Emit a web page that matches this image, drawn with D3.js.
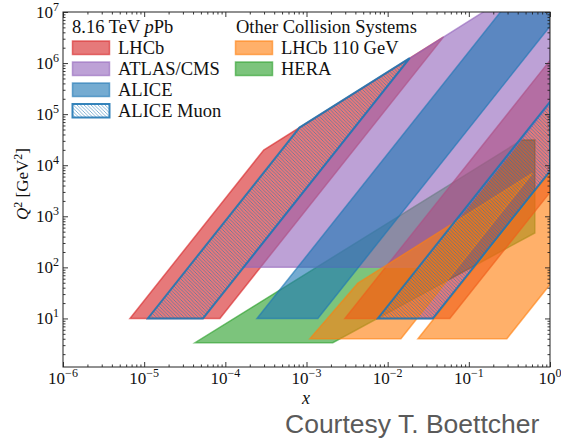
<!DOCTYPE html>
<meta charset="utf-8">
<title>Kinematic coverage</title>
<style>
body { margin: 0; background: #fff; }
text { font-family: "Liberation Serif", "DejaVu Serif", serif; fill: #111; }
.courtesy { font-family: "Liberation Sans", Arial, sans-serif; fill: #5a5a5a; }
.axis path { display: none; }
.axis line { stroke: #222; stroke-width: 0.9px; }
</style>
<svg width="561" height="439"></svg>
<script src="https://d3js.org/d3.v7.min.js"></script>
<script>

// outlines of each acceptance region, [x, Q^2] corners
var lhcbFwd   = [[6.68e-6, 10], [8.57e-5, 10], [0.0489, 3.26e6], [2.97e-4, 1.98e4]];
var lhcbBwd   = [[2.97e-3, 10], [0.0583, 10], [1, 2.94e3], [1, 1.13e6]];
var atlas     = [[1.65e-4, 100], [0.0249, 100], [1, 1.61e5], [1, 6.66e7], [0.0181, 1.2e6]];
var alice     = [[2.45e-4, 10], [1.38e-3, 10], [1, 5.25e6], [1, 6.66e7], [0.4, 2.66e7]];
var muonFwd   = [[1.11e-5, 10], [5.3e-5, 10], [0.0187, 1.25e6], [8.2e-4, 5.47e4]];
var muonBwd   = [[7.57e-3, 10], [0.0361, 10], [1, 7.67e3], [1, 1.75e5]];
var lhcb110a  = [[1.1e-3, 4], [0.01456, 4], [0.604, 6.9e3], [4.3e-3, 49]];
var lhcb110b  = [[0.0236, 4], [0.294, 4], [1, 46], [1, 7.2e3]];
var hera      = [[4.23e-5, 3.35], [2.11e-3, 3.35], [0.65, 472], [0.65, 3.13e4], [0.45, 3.13e4]];

var xTickExp = [-6, -5, -4, -3, -2, -1, 0];
var yTickExp = [1, 2, 3, 4, 5, 6, 7];

var legendLeftTitle = "8.16 TeV ";
var legendLeft = ["LHCb", "ATLAS/CMS", "ALICE", "ALICE Muon"];
var legendRightTitle = "Other Collision Systems";
var legendRight = ["LHCb 110 GeV", "HERA"];

var red = "#d62728", purple = "#9467bd", blue = "#1f77b4", orange = "#ff7f0e", green = "#2ca02c";

var svg = d3.select("svg"),
    L = 63, R = 550, T = 12, B = 367;

var x = d3.scaleLog().domain([1e-6, 1]).range([L, R]);
var y = d3.scaleLog().domain([1.12, 1e7]).range([B, T]);

var defs = svg.append("defs");
defs.append("clipPath").attr("id", "plot")
  .append("rect").attr("x", L).attr("y", T).attr("width", R - L).attr("height", B - T);

var hatch = defs.append("pattern").attr("id", "hatch")
    .attr("patternUnits", "userSpaceOnUse")
    .attr("width", 3.5).attr("height", 3.5);
hatch.append("path")
    .attr("d", "M0,0L3.5,3.5M-1,2.5L1,4.5M2.5,-1L4.5,1")
    .attr("stroke", blue).attr("stroke-opacity", 0.85).attr("stroke-width", 0.65);

var line = d3.line().x(function(d) { return x(d[0]); }).y(function(d) { return y(d[1]); });

// drawing order matters for the overlaps
var layers = [
  {pts: hera, color: green},
  {pts: lhcbFwd, color: red},
  {pts: lhcbBwd, color: red},
  {pts: atlas, color: purple},
  {pts: alice, color: blue},
  {pts: lhcb110a, color: orange},
  {pts: lhcb110b, color: orange},
  {pts: muonFwd, color: blue, hatched: true},
  {pts: muonBwd, color: blue, hatched: true}
];

var g = svg.append("g").attr("clip-path", "url(#plot)");

g.selectAll("path")
  .data(layers)
  .enter().append("path")
    .attr("d", function(d) { return line(d.pts) + "Z"; })
    .attr("fill", function(d) { return d.hatched ? "url(#hatch)" : d.color; })
    .attr("fill-opacity", function(d) { return d.hatched ? 1 : 0.62; })
    .attr("stroke", function(d) { return d.color; })
    .attr("stroke-opacity", function(d) { return d.hatched ? 0.9 : 0.62; })
    .attr("stroke-width", function(d) { return d.hatched ? 2 : 1.5; })
    .attr("stroke-linejoin", "miter");

// ticks on all four sides, pointing in
var xMajor = xTickExp.map(function(e) { return Math.pow(10, e); });
var yMajor = yTickExp.map(function(e) { return Math.pow(10, e); });
var xMinor = [], yMinor = [];
d3.range(-6, 0).forEach(function(e) {
  for (var m = 2; m < 10; m++) xMinor.push(m * Math.pow(10, e));
});
d3.range(0, 7).forEach(function(e) {
  for (var m = 2; m < 10; m++) yMinor.push(m * Math.pow(10, e));
});

function ticks(axisFn, scale, vals, size, tr) {
  svg.append("g").attr("class", "axis").attr("transform", tr)
    .call(axisFn(scale).tickValues(vals).tickSize(-size).tickSizeOuter(0).tickFormat(""));
}
[[xMajor, 5], [xMinor, 2.5]].forEach(function(p) {
  ticks(d3.axisBottom, x, p[0], p[1], "translate(0," + B + ")");
  ticks(d3.axisTop, x, p[0], p[1], "translate(0," + T + ")");
});
[[yMajor, 5], [yMinor, 2.5]].forEach(function(p) {
  ticks(d3.axisLeft, y, p[0], p[1], "translate(" + L + ",0)");
  ticks(d3.axisRight, y, p[0], p[1], "translate(" + R + ",0)");
});

svg.append("rect")
    .attr("x", L).attr("y", T).attr("width", R - L).attr("height", B - T)
    .attr("fill", "none").attr("stroke", "#222").attr("stroke-width", 1);

function expLabel(sel, e) {
  sel.append("tspan").text("10");
  sel.append("tspan").attr("dy", -7).style("font-size", "12px")
     .text(String(e).replace("-", "\u2212"));
}

svg.selectAll(".xlab")
  .data(xTickExp)
  .enter().append("text")
    .attr("class", "xlab")
    .attr("x", function(e) { return x(Math.pow(10, e)); })
    .attr("y", 384)
    .attr("text-anchor", "middle")
    .style("font-size", "17px")
    .each(function(e) { expLabel(d3.select(this), e); });

svg.selectAll(".ylab")
  .data(yTickExp)
  .enter().append("text")
    .attr("class", "ylab")
    .attr("x", 59)
    .attr("y", function(e) { return y(Math.pow(10, e)) + 6; })
    .attr("text-anchor", "end")
    .style("font-size", "17px")
    .each(function(e) { expLabel(d3.select(this), e); });

// axis titles
var yt = svg.append("text")
    .attr("transform", "translate(28,184) rotate(-90)")
    .attr("text-anchor", "middle")
    .style("font-size", "17px");
yt.append("tspan").style("font-style", "italic").text("Q");
yt.append("tspan").attr("dy", -6).style("font-size", "12px").text("2");
yt.append("tspan").attr("dy", 6).text(" [GeV");
yt.append("tspan").attr("dy", -6).style("font-size", "12px").text("2");
yt.append("tspan").attr("dy", 6).text("]");

svg.append("text")
    .attr("x", 306).attr("y", 404)
    .attr("text-anchor", "middle")
    .style("font-size", "18px").style("font-style", "italic")
    .text("x");

// legend
var lg = svg.append("g");
var t1 = lg.append("text").attr("x", 72).attr("y", 33).style("font-size", "18.5px");
t1.append("tspan").text(legendLeftTitle);
t1.append("tspan").style("font-style", "italic").text("p");
t1.append("tspan").text("Pb");

var leftColors = [red, purple, blue, blue];
legendLeft.forEach(function(name, i) {
  var yy = 41 + i * 21;
  lg.append("rect")
    .attr("x", 72.5).attr("y", yy).attr("width", 37).attr("height", 13.5)
    .attr("fill", i === 3 ? "url(#hatch)" : leftColors[i])
    .attr("fill-opacity", i === 3 ? 1 : 0.62)
    .attr("stroke", leftColors[i])
    .attr("stroke-opacity", i === 3 ? 0.9 : 0.62)
    .attr("stroke-width", i === 3 ? 2 : 1.5);
  lg.append("text").attr("x", 118).attr("y", yy + 12.5)
    .style("font-size", "18.5px").text(name);
});

lg.append("text").attr("x", 236).attr("y", 33).style("font-size", "18.5px").text(legendRightTitle);
var rightColors = [orange, green];
legendRight.forEach(function(name, i) {
  var yy = 41 + i * 21;
  lg.append("rect")
    .attr("x", 235.5).attr("y", yy).attr("width", 37).attr("height", 13.5)
    .attr("fill", rightColors[i]).attr("fill-opacity", 0.62)
    .attr("stroke", rightColors[i]).attr("stroke-opacity", 0.62)
    .attr("stroke-width", 1.5);
  lg.append("text").attr("x", 281).attr("y", yy + 12.5)
    .style("font-size", "18.5px").text(name);
});

svg.append("text")
    .attr("class", "courtesy")
    .attr("x", 285).attr("y", 433)
    .style("font-size", "26.5px")
    .text("Courtesy T. Boettcher");

</script>
